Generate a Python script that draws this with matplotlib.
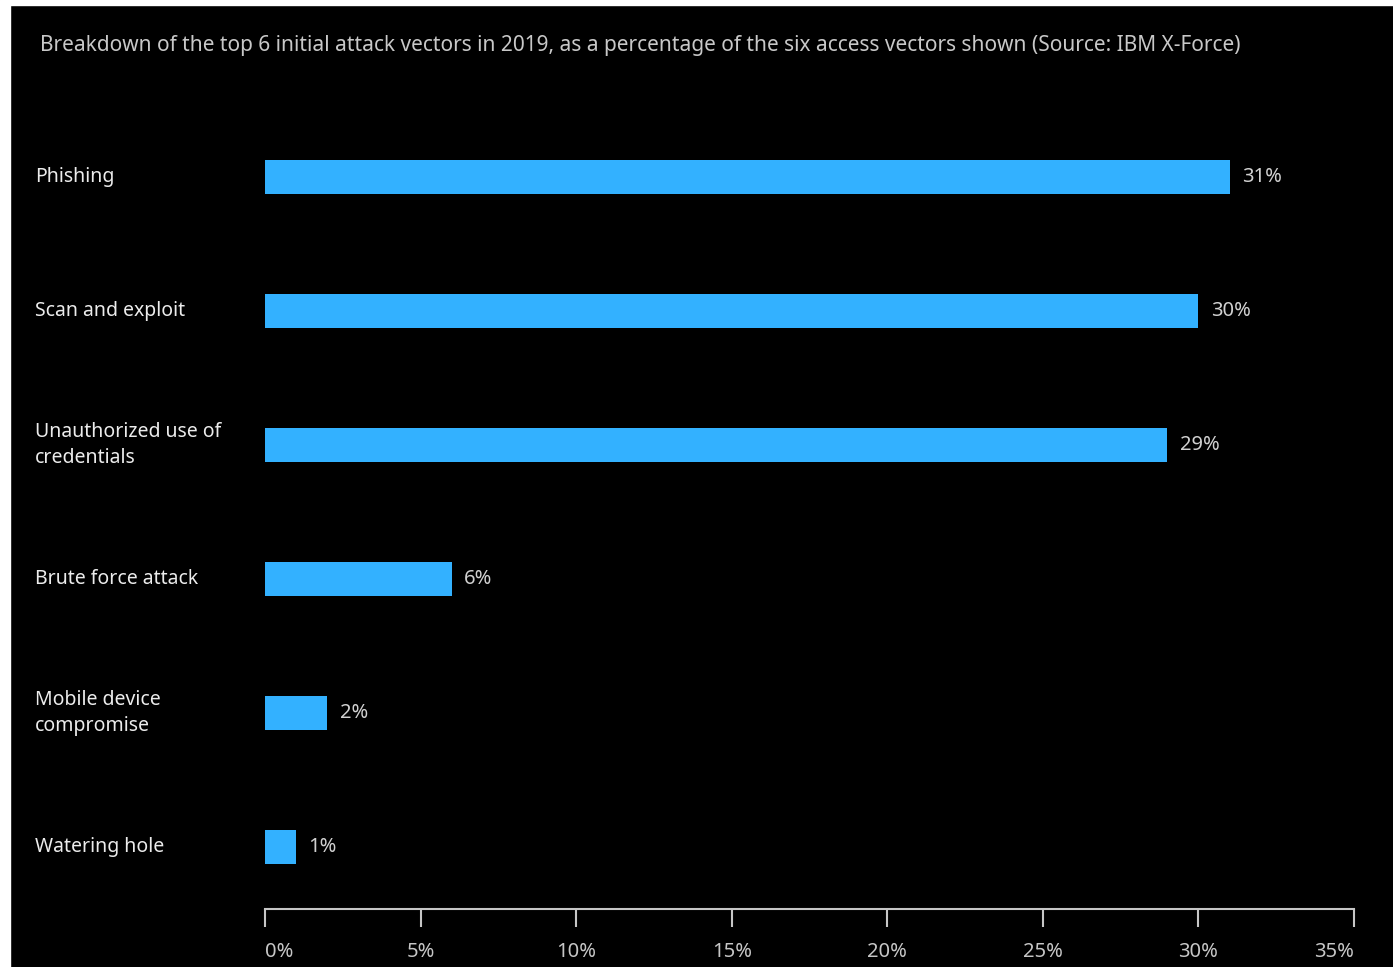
import matplotlib.pyplot as plt
from matplotlib.patches import Rectangle
from matplotlib.transforms import blended_transform_factory

categories = ["Phishing", "Scan and exploit", "Unauthorized use of\ncredentials",
              "Brute force attack", "Mobile device\ncompromise", "Watering hole"]
values = [31, 30, 29, 6, 2, 1]
ticks = [0, 5, 10, 15, 20, 25, 30, 35]
tick_labels = ["0%", "5%", "10%", "15%", "20%", "25%", "30%", "35%"]
title = ("Breakdown of the top 6 initial attack vectors in 2019, as a percentage "
         "of the six access vectors shown (Source: IBM X-Force)")

plt.rcParams['font.family'] = ['Noto Sans', 'DejaVu Sans']

W, H = 1393, 967
fig = plt.figure(figsize=(W / 100, H / 100), dpi=100, facecolor='black')
# white strip on top and left
fig.patches.append(Rectangle((0, 1 - 5 / H), 1, 5 / H, transform=fig.transFigure,
                             color='white', zorder=-1))
fig.patches.append(Rectangle((0, 0), 10 / W, 1, transform=fig.transFigure,
                             color='white', zorder=-1))

ax = fig.add_axes([265 / W, 1 - 909 / H, 1089 / W, 799 / H])
ax.set_facecolor('black')

pos = list(range(len(categories)))
ax.barh(pos, values, height=0.25, color='#33b1ff')
ax.set_ylim(5.463, -0.5)
ax.set_xlim(0, 35)

for s in ['top', 'right', 'left']:
    ax.spines[s].set_visible(False)
ax.spines['bottom'].set_color('#c6c6c6')
ax.spines['bottom'].set_linewidth(1.5)
ax.set_yticks([])
ax.set_xticks(ticks)
ax.set_xticklabels(tick_labels)
ax.tick_params(axis='x', colors='#c6c6c6', length=13, width=1.5, pad=11,
               labelsize=14.5, labelcolor='#c6c6c6')
lbls = ax.get_xticklabels()
lbls[0].set_ha('left')
lbls[0].set_x(-0.12)
lbls[-1].set_ha('right')

for p, v in zip(pos, values):
    ax.annotate(f"{v}%", (v, p), xytext=(9, 0), textcoords='offset points',
                va='center', ha='left', color='#d0d0d0', fontsize=14.5)

tr = blended_transform_factory(fig.transFigure, ax.transData)
for p, c in zip(pos, categories):
    ax.text(35 / W, p, c, transform=tr, va='center', ha='left', color='#ececec',
            fontsize=14, linespacing=1.35)

fig.text(40 / W, 1 - 46 / H, title, va='center', ha='left', color='#c8c8c8', fontsize=15)

fig.savefig('out.png', dpi=100, facecolor=fig.get_facecolor())
